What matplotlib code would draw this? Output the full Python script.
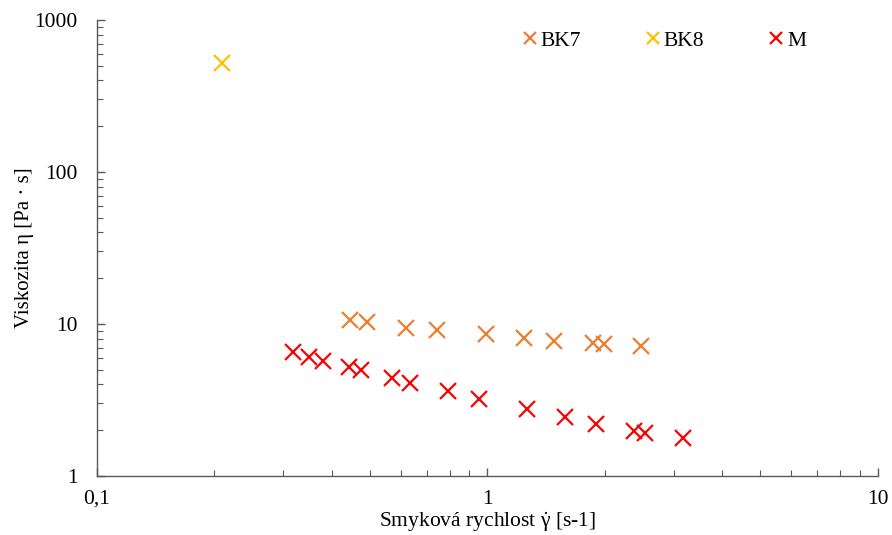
import matplotlib
matplotlib.use("Agg")
import matplotlib.pyplot as plt
from matplotlib.ticker import FixedLocator, FixedFormatter, LogLocator, NullFormatter

# shear rate [1/s] and viscosity [Pa.s]
bk7_x = [0.445, 0.493, 0.620, 0.743, 0.990, 1.239, 1.485, 1.862, 1.988, 2.478]
bk7_y = [10.6, 10.3, 9.46, 9.13, 8.60, 8.05, 7.73, 7.46, 7.35, 7.20]

bk8_x = [0.209]
bk8_y = [521]

m_x = [0.317, 0.350, 0.380, 0.443, 0.475, 0.570, 0.632, 0.791, 0.950,
       1.264, 1.585, 1.900, 2.372, 2.531, 3.169]
m_y = [6.51, 6.09, 5.71, 5.24, 4.98, 4.39, 4.11, 3.64, 3.21,
       2.75, 2.43, 2.19, 1.98, 1.91, 1.77]

x_ticks = [0.1, 1, 10]
x_labels = ["0,1", "1", "10"]
y_ticks = [1, 10, 100, 1000]
y_labels = ["1", "10", "100", "1000"]

plt.rcParams["font.family"] = ["Liberation Serif", "DejaVu Serif"]
plt.rcParams["font.size"] = 15.5
plt.rcParams["mathtext.fontset"] = "custom"
plt.rcParams["mathtext.rm"] = "Liberation Serif"
plt.rcParams["mathtext.it"] = "Liberation Serif:italic"

fig = plt.figure(figsize=(8.92, 5.35), dpi=100)
ax = fig.add_axes([0.1087, 0.1103, 0.8753, 0.8523])

series = [
    ("BK7", bk7_x, bk7_y, "#ED7D31"),
    ("BK8", bk8_x, bk8_y, "#FFC000"),
    ("M", m_x, m_y, "#FF0000"),
]
for name, xs, ys, col in series:
    ax.plot(xs, ys, ls="none", marker="x", ms=11.5, mew=1.6, color=col, label=name)

ax.set_xscale("log")
ax.set_yscale("log")
ax.set_xlim(0.1, 10)
ax.set_ylim(1, 1000)

ax.xaxis.set_major_locator(FixedLocator(x_ticks))
ax.xaxis.set_major_formatter(FixedFormatter(x_labels))
ax.yaxis.set_major_locator(FixedLocator(y_ticks))
ax.yaxis.set_major_formatter(FixedFormatter(y_labels))
ax.xaxis.set_minor_locator(LogLocator(base=10, subs=range(2, 10)))
ax.yaxis.set_minor_locator(LogLocator(base=10, subs=range(2, 10)))
ax.xaxis.set_minor_formatter(NullFormatter())
ax.yaxis.set_minor_formatter(NullFormatter())

for side in ("top", "right"):
    ax.spines[side].set_visible(False)
for side in ("left", "bottom"):
    ax.spines[side].set_color("#595959")
    ax.spines[side].set_linewidth(1.0)

ax.tick_params(which="both", direction="in", color="#595959", labelsize=15.5, labelcolor="black")
ax.tick_params(which="major", length=6, width=1.0, pad=14)
ax.tick_params(which="minor", length=4, width=0.8)
ax.tick_params(axis="x", which="major", pad=10)

ax.set_xlabel("Smyková rychlost $\\mathrm{\\dot{\\gamma}}$ [s-1]", labelpad=1)
ax.set_ylabel("Viskozita η [Pa · s]", fontsize=15, labelpad=0)

ax.legend(loc="upper right", bbox_to_anchor=(0.925, 1.005), ncol=3, frameon=False,
          fontsize=15.5, markerscale=0.75, handlelength=0.7, handletextpad=0.15,
          columnspacing=3.0, borderaxespad=0.2)

fig.savefig("out.png", dpi=100)
